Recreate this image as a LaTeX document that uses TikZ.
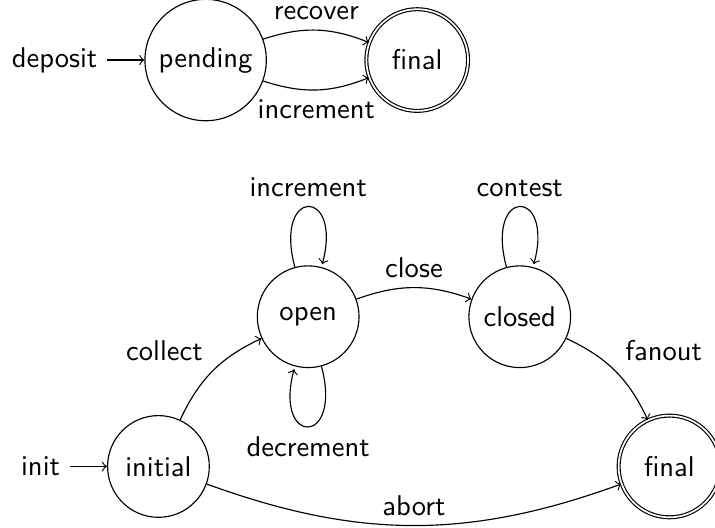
\documentclass[tikz,border=0pt]{standalone}
\usepackage{tikz}
\usetikzlibrary{positioning}

\begin{document}
\begin{tikzpicture}[font=\sffamily, node distance=2.6cm,
  state/.style={circle, draw, minimum size=1.25cm},
  accepting/.style={state, double}]
\useasboundingbox (-55.4pt,-21.2pt) rectangle (194.6pt,163.1pt);

% Deposit automaton
\node[state] (pending) at (16.5pt,142.1pt) {pending};
\node[accepting, on grid, right=of pending] (final1) {final};
\node (deposit) [left=3ex of pending] {deposit};
\draw[->] (deposit) -- (pending);
\path[->] (pending) edge[bend left=20] node[above] {recover} (final1)
          (pending) edge[bend right=20] node[below] {increment} (final1);

% Main automaton
\node[state] (initial) at (0,0) {initial};
\node[state, on grid, above right=1.84cm and 1.84cm of initial] (open) {open};
\node[state, on grid, right=of open] (closed) {closed};
\node[accepting, on grid, below right=1.84cm and 1.84cm of closed] (final2) {final};
\node (init) [left=3ex of initial] {init};
\draw[->] (init) -- (initial);

\path[->] (initial) edge[bend left=20] node[above left] {collect} (open)
          (open) edge[loop above] node[above] {increment} ()
          (open) edge[loop below] node[below] {decrement} ()
          (open) edge[bend left=20] node[above] {close} (closed)
          (closed) edge[loop above] node[above] {contest} ()
          (closed) edge[bend left=20] node[above right] {fanout} (final2)
          (initial) edge[bend right=20] node[above] {abort} (final2);
\end{tikzpicture}
\end{document}
